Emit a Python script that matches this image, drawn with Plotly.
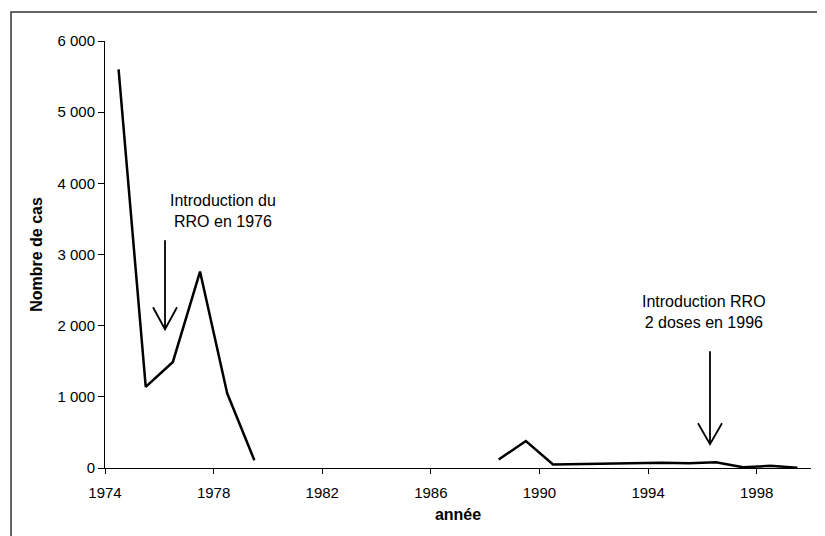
import plotly.graph_objects as go

years = list(range(1974, 2000))
cases = [5600, 1140, 1490, 2760, 1050, 110,
         None, None, None, None, None, None, None, None,
         120, 380, 50, 55, 62, 75, 75, 65, 80, 10, 30, 5]
tick_years = [1974, 1978, 1982, 1986, 1990, 1994, 1998]
y_ticks = [0, 1000, 2000, 3000, 4000, 5000, 6000]

FONT = "Liberation Sans, Arial, sans-serif"

fig = go.Figure()
fig.add_trace(go.Scatter(
    x=years, y=cases, mode="lines",
    line=dict(color="black", width=2.5),
    connectgaps=False, hoverinfo="skip", showlegend=False,
))

# the page adds an 8px body margin, so the figure is sized/offset to compensate
fig.update_layout(
    width=817, height=528,
    margin=dict(l=97, r=14, t=33, b=68, autoexpand=False),
    paper_bgcolor="white", plot_bgcolor="white",
    separators=", ",
    font=dict(family=FONT, color="black", size=15),
    xaxis=dict(
        range=[years[0] - 0.5, years[-1] + 0.5],
        tickvals=[t - 0.5 for t in tick_years],
        ticktext=[str(t) for t in tick_years],
        showgrid=False, zeroline=False, automargin=False,
        showline=True, linecolor="black", linewidth=1,
        ticks="outside", ticklen=5, tickcolor="black", tickwidth=1,
        tickfont=dict(size=15), ticklabelstandoff=6,
        title=dict(text="<b>année</b>", font=dict(size=16), standoff=8),
    ),
    yaxis=dict(
        range=[0, 6000],
        tickvals=y_ticks, tickformat=",d",
        showgrid=False, zeroline=False, automargin=False,
        showline=True, linecolor="black", linewidth=1,
        ticks="outside", ticklen=6, tickcolor="black", tickwidth=1,
        tickfont=dict(size=15),
        title=dict(text="<b>Nombre de cas</b>", font=dict(size=16), standoff=10),
    ),
)

# outer frame (partly cut off at right and bottom, as in the reference)
fig.add_shape(type="rect", xref="paper", yref="paper",
              x0=-0.1331, x1=1.2, y0=-0.3, y1=1.068,
              line=dict(color="#333333", width=1.5), layer="above")

# annotation texts
fig.add_annotation(x=1977.86, y=3611, xref="x", yref="y",
                   text="Introduction du<br>RRO en 1976", showarrow=False,
                   font=dict(size=16, family=FONT), align="center",
                   xanchor="center", yanchor="middle")
fig.add_annotation(x=1995.56, y=2192, xref="x", yref="y",
                   text="Introduction RRO<br>2 doses en 1996", showarrow=False,
                   font=dict(size=16, family=FONT), align="center",
                   xanchor="center", yanchor="middle")

# arrows: shaft + open chevron, anchored at the tip, sized in pixels
for tip_x, tip_y, shaft_len, head_h in [(1975.71, 1949, 89, 22), (1995.78, 333, 93, 21)]:
    fig.add_shape(type="path", xref="x", yref="y",
                  xsizemode="pixel", ysizemode="pixel",
                  xanchor=tip_x, yanchor=tip_y,
                  path=f"M0,{shaft_len} L0,0 M-12,{head_h} L0,0 L12,{head_h}",
                  line=dict(color="black", width=1.8))

fig.write_html("out.html")
